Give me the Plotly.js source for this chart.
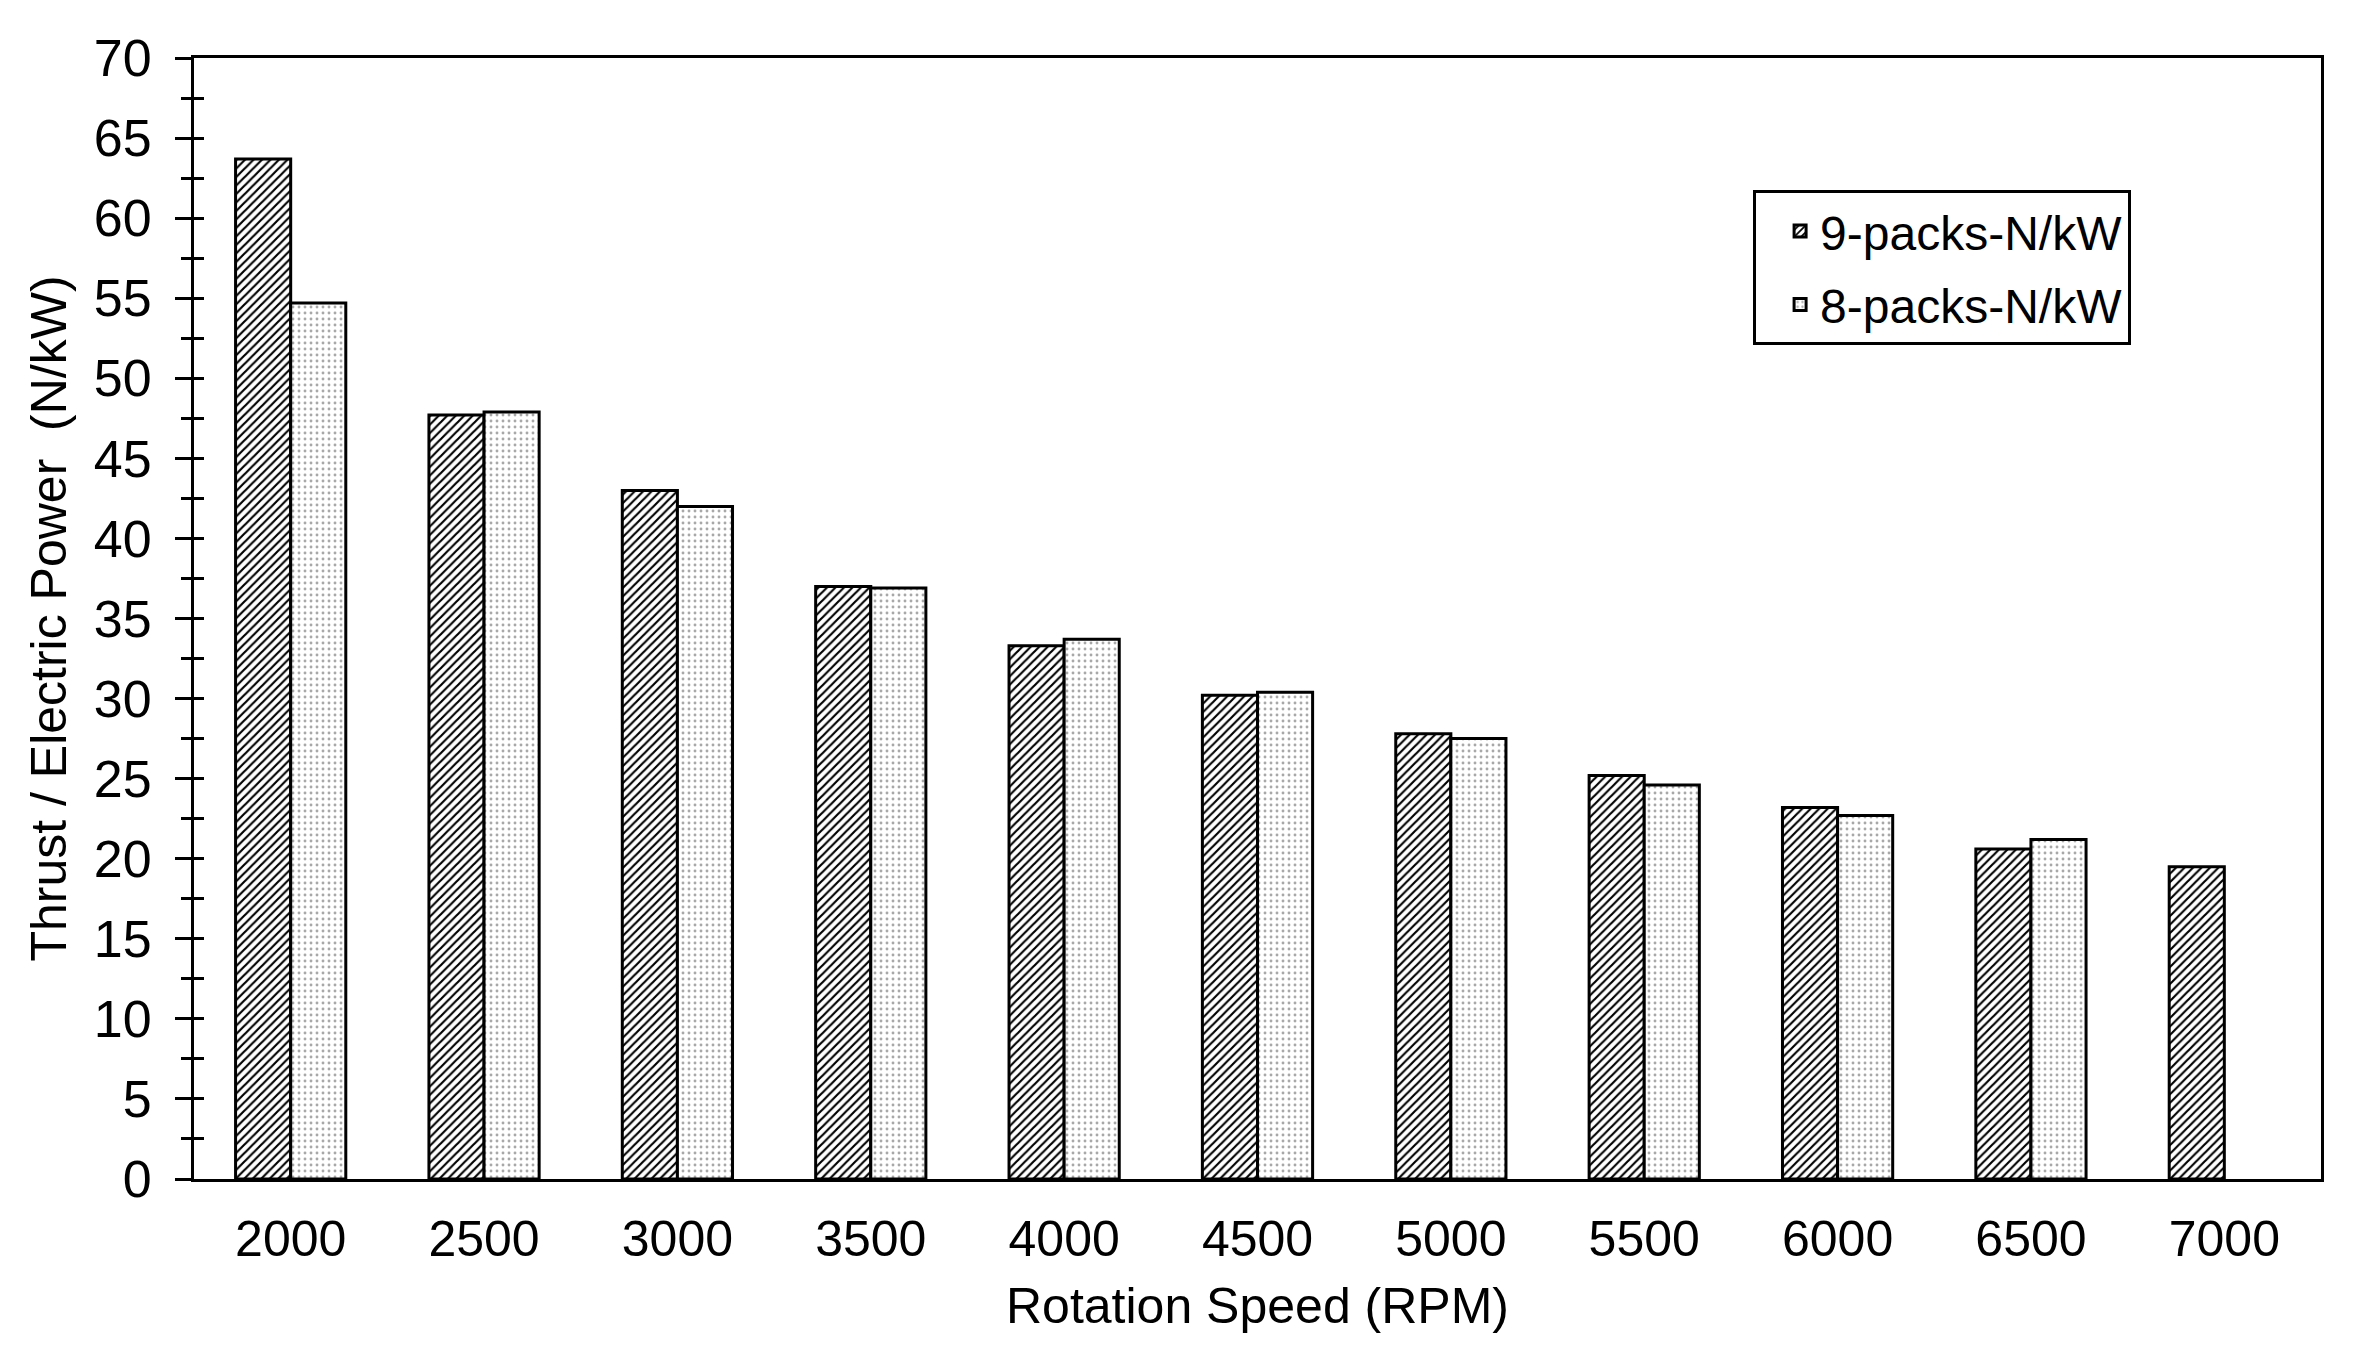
<!DOCTYPE html>
<html>
<head>
<meta charset="utf-8">
<script src="https://cdn.plot.ly/plotly-3.0.1.min.js"></script>
<style>
  html, body { margin: 0; padding: 0; background: #fff; }
  #chart { width: 2368px; height: 1361px; }
</style>
</head>
<body>
<div id="chart"></div>
<script>
// rotation speeds (categories)
const rpm = ["2000", "2500", "3000", "3500", "4000", "4500", "5000", "5500", "6000", "6500", "7000"];

// thrust / electric power, N/kW
const ninePacks = [63.7, 47.7, 43.0, 37.0, 33.3, 30.2, 27.8, 25.2, 23.2, 20.6, 19.5];
const eightPacks = [54.7, 47.9, 42.0, 36.9, 33.7, 30.4, 27.5, 24.6, 22.7, 21.2, null];

const FONT = "Liberation Sans, Arial, sans-serif";

const traces = [
  {
    type: "bar",
    name: "9-packs-N/kW",
    legendgroup: "nine",
    x: rpm,
    y: ninePacks,
    marker: {
      color: "#fff",
      line: { color: "#000", width: 3 },
      pattern: { shape: "/", fgcolor: "#000", bgcolor: "#fff", size: 6, solidity: 0.36 }
    },
    hoverinfo: "skip"
  },
  {
    type: "bar",
    name: "8-packs-N/kW",
    legendgroup: "eight",
    x: rpm,
    y: eightPacks,
    marker: {
      color: "#fff",
      line: { color: "#000", width: 3 },
      pattern: { shape: ".", fgcolor: "#a8a8a8", bgcolor: "#fff", size: 6, solidity: 0.18 }
    },
    hoverinfo: "skip"
  }
];

const layout = {
  width: 2368,
  height: 1361,
  paper_bgcolor: "#fff",
  plot_bgcolor: "#fff",
  font: { family: FONT, size: 50, color: "#000" },
  margin: { l: 194, r: 47, t: 58, b: 182 },
  barmode: "group",
  bargap: 0.43,
  bargroupgap: 0,
  showlegend: true,
  legend: {
    x: 0.733,
    y: 0.882,
    xanchor: "left",
    yanchor: "top",
    bgcolor: "#fff",
    bordercolor: "#000",
    borderwidth: 3,
    indentation: 24,
    tracegroupgap: 8,
    font: { family: FONT, size: 48, color: "#000" },
    traceorder: "grouped"
  },
  xaxis: {
    type: "category",
    range: [-0.5, 10.5],
    showline: true,
    linecolor: "#000",
    linewidth: 3,
    mirror: true,
    ticks: "",
    showgrid: false,
    zeroline: false,
    ticklabelstandoff: 14,
    tickfont: { family: FONT, size: 50, color: "#000" },
    title: { text: "Rotation Speed (RPM)", font: { family: FONT, size: 50, color: "#000" }, standoff: 22 }
  },
  yaxis: {
    range: [0, 70],
    dtick: 5,
    showline: true,
    linecolor: "#000",
    linewidth: 3,
    mirror: true,
    ticks: "outside",
    ticklen: 16,
    tickwidth: 3,
    tickcolor: "#000",
    minor: { dtick: 2.5, ticks: "outside", ticklen: 10, tickwidth: 3, tickcolor: "#000", showgrid: false },
    showgrid: false,
    zeroline: false,
    ticklabelstandoff: 13,
    tickfont: { family: FONT, size: 52, color: "#000" },
    title: { text: "Thrust / Electric Power  (N/kW)", font: { family: FONT, size: 50, color: "#000" }, standoff: 12 }
  },
  // inner half of the crossing ticks
  yaxis2: {
    overlaying: "y",
    side: "left",
    range: [0, 70],
    dtick: 5,
    showline: false,
    ticks: "inside",
    ticklen: 10,
    tickwidth: 3,
    tickcolor: "#000",
    minor: { dtick: 2.5, ticks: "inside", ticklen: 10, tickwidth: 3, tickcolor: "#000", showgrid: false },
    showticklabels: false,
    showgrid: false,
    zeroline: false
  }
};

// empty trace so the overlay axis is drawn
traces.push({ type: "scatter", x: [], y: [], yaxis: "y2", showlegend: false, hoverinfo: "skip" });

Plotly.newPlot("chart", traces, layout, { staticPlot: true, displayModeBar: false });
</script>
</body>
</html>
